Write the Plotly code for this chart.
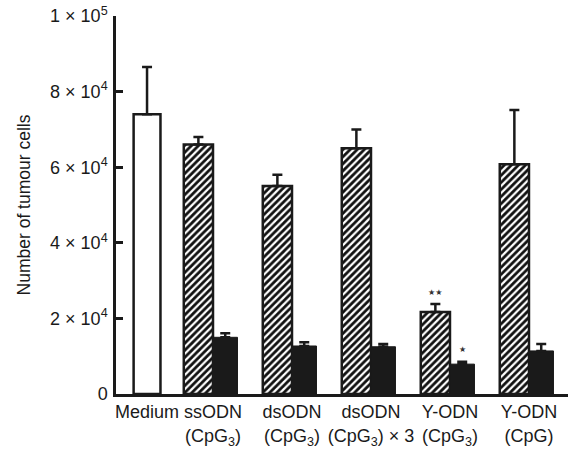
import plotly.graph_objects as go
import numpy as np

groups = ["Medium", "ssODN<br>(CpG<sub>3</sub>)", "dsODN<br>(CpG<sub>3</sub>)",
          "dsODN<br>(CpG<sub>3</sub>) × 3", "Y-ODN<br>(CpG<sub>3</sub>)", "Y-ODN<br>(CpG)"]
medium_value = [74000]
medium_err = [12500]
hatched_values = [66000, 55000, 65000, 21700, 60800]
hatched_err = [2000, 3000, 5000, 2100, 14300]
black_values = [15000, 12700, 12500, 7900, 11400]
black_err = [1100, 1000, 700, 600, 1800]
y_ticks = [0, 20000, 40000, 60000, 80000, 100000]
y_ticklabels = ["0", "2 × 10<sup>4</sup>", "4 × 10<sup>4</sup>", "6 × 10<sup>4</sup>",
                "8 × 10<sup>4</sup>", "1 × 10<sup>5</sup>"]
stars_hatched = ["", "", "", "★★", ""]
stars_black = ["", "", "", "★", ""]

pos = np.arange(len(groups), dtype=float)
pos[0] = 0.165  # Medium sits closer to the treatment groups
treat_pos = pos[1:]

fig = go.Figure()
fig.add_trace(go.Bar(
    x=[pos[0]], y=medium_value, width=0.34,
    marker=dict(color="white", line=dict(color="#1a1a1a", width=2.5)),
    error_y=dict(type="data", symmetric=False, array=medium_err, arrayminus=[0],
                 color="#1a1a1a", thickness=2.5, width=5),
))
fig.add_trace(go.Bar(
    x=treat_pos, y=hatched_values, width=0.37, offset=-0.37,
    marker=dict(color="white", line=dict(color="#1a1a1a", width=2.5),
                pattern=dict(shape="/", fgcolor="#111111", bgcolor="white", size=5,
                             solidity=0.55, fgopacity=1)),
    error_y=dict(type="data", symmetric=False, array=hatched_err, arrayminus=[0]*5,
                 color="#1a1a1a", thickness=2.5, width=5),
))
fig.add_trace(go.Bar(
    x=treat_pos, y=black_values, width=0.31, offset=0,
    marker=dict(color="#1a1a1a", line=dict(color="#1a1a1a", width=1)),
    error_y=dict(type="data", symmetric=False, array=black_err, arrayminus=[0]*5,
                 color="#1a1a1a", thickness=2.5, width=5),
))

for i, s in enumerate(stars_hatched):
    if s:
        fig.add_annotation(x=treat_pos[i] - 0.185, y=hatched_values[i] + hatched_err[i],
                           text=s, showarrow=False, yshift=12,
                           font=dict(family="DejaVu Sans", size=8, color="#333333"))
for i, s in enumerate(stars_black):
    if s:
        fig.add_annotation(x=treat_pos[i] + 0.155, y=black_values[i] + black_err[i],
                           text=s, showarrow=False, yshift=12,
                           font=dict(family="DejaVu Sans", size=8, color="#333333"))

fig.update_layout(
    width=570, height=450,
    margin=dict(l=116, r=2, t=16, b=56),
    paper_bgcolor="white", plot_bgcolor="white",
    showlegend=False, barmode="overlay",
    font=dict(family="Liberation Sans, Arial, sans-serif", size=15, color="#1a1a1a"),
    xaxis=dict(range=[-0.228, 5.494], tickmode="array", tickvals=pos, ticktext=groups,
               showline=True, linecolor="#1a1a1a", linewidth=2.5, showgrid=False,
               ticks="", zeroline=False, tickfont=dict(size=18), automargin=False),
    yaxis=dict(range=[0, 100000], tickmode="array", tickvals=y_ticks, ticktext=y_ticklabels,
               showline=True, linecolor="#1a1a1a", linewidth=2.5, showgrid=False,
               ticks="inside", ticklen=7, tickwidth=2.5, tickcolor="#1a1a1a", zeroline=False,
               title=dict(text="Number of tumour cells", font=dict(size=17.5), standoff=15),
               tickfont=dict(size=18), automargin=False, ticklabelstandoff=2),
)

fig.write_html("out.html", config={"displayModeBar": False},
               post_script="document.body.style.margin='0';")
